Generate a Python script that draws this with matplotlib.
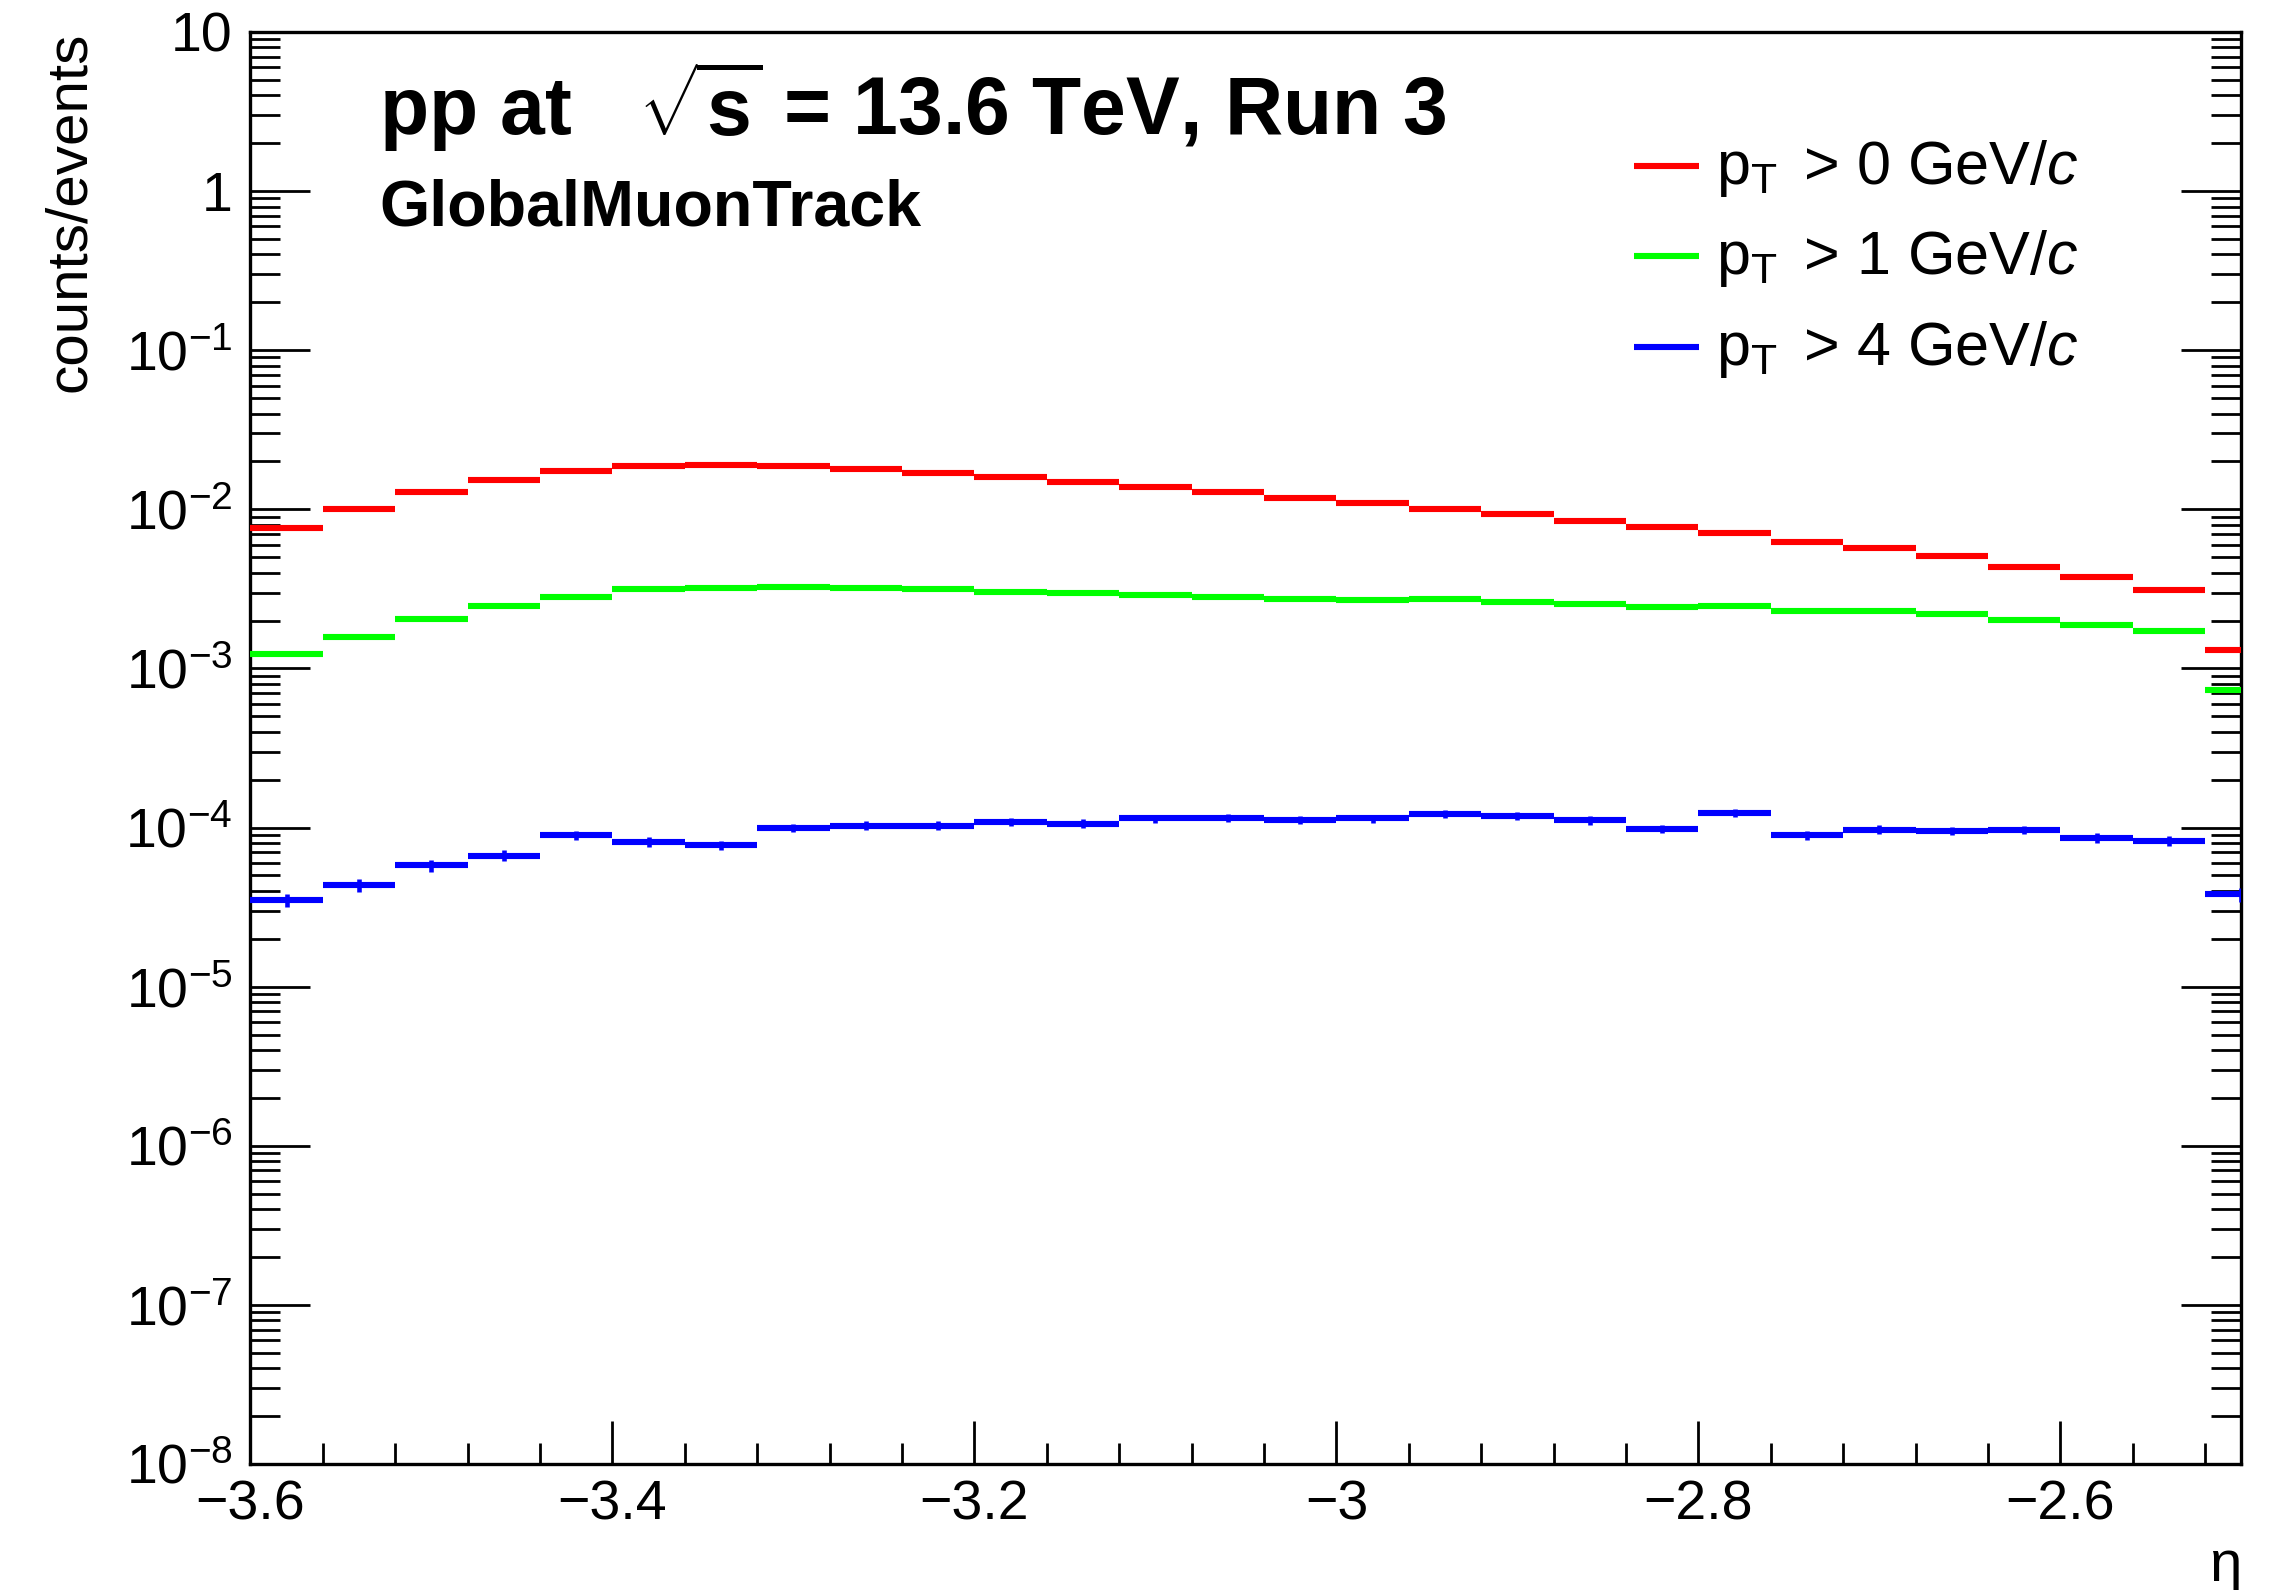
import numpy as np
import matplotlib
matplotlib.use("Agg")
import matplotlib.pyplot as plt
from matplotlib.ticker import FixedLocator, LogLocator, FuncFormatter, NullFormatter

plt.rcParams['font.family'] = ['Liberation Sans', 'DejaVu Sans']
plt.rcParams['mathtext.fontset'] = 'custom'
plt.rcParams['mathtext.rm'] = 'Liberation Sans'
plt.rcParams['mathtext.it'] = 'Liberation Sans:italic'
plt.rcParams['mathtext.bf'] = 'Liberation Sans:bold'

# eta binning: 0.04 wide bins starting at -3.6, last one runs past the frame
bin_edges = np.linspace(-3.6, -2.48, 29)

# counts/events per eta bin for the three pT thresholds
pt0 = [7.67e-3, 1.00e-2, 1.29e-2, 1.53e-2, 1.74e-2, 1.87e-2, 1.90e-2, 1.87e-2,
       1.79e-2, 1.70e-2, 1.59e-2, 1.48e-2, 1.38e-2, 1.29e-2, 1.18e-2, 1.09e-2,
       1.01e-2, 9.3e-3, 8.5e-3, 7.7e-3, 7.1e-3, 6.25e-3, 5.7e-3, 5.06e-3,
       4.33e-3, 3.77e-3, 3.11e-3, 1.30e-3]
pt1 = [1.23e-3, 1.57e-3, 2.05e-3, 2.48e-3, 2.82e-3, 3.16e-3, 3.21e-3, 3.23e-3,
       3.21e-3, 3.16e-3, 3.03e-3, 2.98e-3, 2.88e-3, 2.80e-3, 2.75e-3, 2.68e-3,
       2.72e-3, 2.61e-3, 2.55e-3, 2.45e-3, 2.48e-3, 2.31e-3, 2.31e-3, 2.21e-3,
       2.01e-3, 1.88e-3, 1.72e-3, 7.3e-4]
pt4 = [3.50e-5, 4.33e-5, 5.78e-5, 6.67e-5, 8.95e-5, 8.09e-5, 7.75e-5, 9.95e-5,
       1.03e-4, 1.03e-4, 1.09e-4, 1.06e-4, 1.14e-4, 1.15e-4, 1.12e-4, 1.14e-4,
       1.22e-4, 1.19e-4, 1.11e-4, 9.8e-5, 1.23e-4, 8.95e-5, 9.7e-5, 9.53e-5,
       9.67e-5, 8.61e-5, 8.28e-5, 3.80e-5]
pt4_err = [3.5e-6, 4.2e-6, 4.9e-6, 5.3e-6, 6.3e-6, 5.7e-6, 5.4e-6, 6.3e-6,
           6.4e-6, 6.4e-6, 6.5e-6, 6.4e-6, 6.6e-6, 6.7e-6, 6.6e-6, 6.6e-6,
           6.9e-6, 6.8e-6, 6.6e-6, 6.2e-6, 6.9e-6, 5.9e-6, 6.1e-6, 6.1e-6,
           6.1e-6, 5.8e-6, 5.7e-6, 3.9e-6]

labels = [r"p$_{\mathregular{T}}\,$ > 0 GeV/$\mathit{c}$",
          r"p$_{\mathregular{T}}\,$ > 1 GeV/$\mathit{c}$",
          r"p$_{\mathregular{T}}\,$ > 4 GeV/$\mathit{c}$"]
colors = ['#ff0000', '#00ff00', '#0000ff']

fig = plt.figure(figsize=(22.7, 15.9), dpi=100)
ax = fig.add_axes([0.11035, 0.07925, 0.87709, 0.90063])

lo = bin_edges[:-1]
hi = bin_edges[1:]
centers = 0.5 * (lo + hi)

for vals, col in zip([pt0, pt1, pt4], colors):
    ax.hlines(vals, lo, hi, colors=col, linewidth=4.4, capstyle='butt', zorder=3)

v4 = np.array(pt4)
e4 = np.array(pt4_err)
ax.vlines(centers, v4 - e4, v4 + e4, colors=colors[2], linewidth=3.3, zorder=3)

ax.set_xlim(-3.6, -2.5)
ax.set_yscale('log')
ax.set_ylim(1e-8, 10)

ax.xaxis.set_major_locator(FixedLocator([-3.6, -3.4, -3.2, -3.0, -2.8, -2.6]))
ax.xaxis.set_minor_locator(FixedLocator(np.arange(-3.6, -2.49, 0.04)))
ax.xaxis.set_major_formatter(FuncFormatter(lambda v, p: f"{v:g}".replace('-', '\u2212')))

def ylab(v, p):
    k = int(round(np.log10(v)))
    if k == 0:
        return "1"
    if k == 1:
        return "10"
    return r"$\mathregular{10^{%d}}$" % k

ax.yaxis.set_major_locator(LogLocator(base=10, numticks=20))
ax.yaxis.set_minor_locator(LogLocator(base=10, subs=np.arange(2, 10), numticks=20))
ax.yaxis.set_major_formatter(FuncFormatter(ylab))
ax.yaxis.set_minor_formatter(NullFormatter())

ax.tick_params(axis='both', which='both', direction='in', width=2.0, labelsize=40)
ax.tick_params(axis='y', which='major', length=43, left=True, right=True, pad=13)
ax.tick_params(axis='y', which='minor', length=21.5, left=True, right=True)
ax.tick_params(axis='x', which='major', length=31, top=False, pad=11)
ax.tick_params(axis='x', which='minor', length=15, top=False)
for s in ax.spines.values():
    s.set_linewidth(2.4)

ax.text(-0.0907, 1.0, "counts/events", rotation=90, ha='center', va='top',
        fontsize=42, transform=ax.transAxes)
ax.text(1.0, -0.071, "\u03b7", ha='right', va='center', fontsize=42,
        transform=ax.transAxes)

ax.text(0.0645, 0.928, r"pp at   $\sqrt{\mathbf{s}}$ = 13.6 TeV, Run 3",
        fontsize=58, fontweight='bold', ha='left', va='baseline',
        transform=ax.transAxes)
ax.text(0.0645, 0.865, "GlobalMuonTrack", fontsize=46.5, fontweight='bold',
        ha='left', va='baseline', transform=ax.transAxes)

# legend drawn by hand in axes fractions
row_y = [0.9062, 0.8433, 0.7798]
for lab, col, y in zip(labels, colors, row_y):
    ax.plot([0.6948, 0.7275], [y, y], color=col, linewidth=4.4,
            solid_capstyle='butt', transform=ax.transAxes, clip_on=False)
    ax.text(0.7361, y - 0.0125, lab, fontsize=44, ha='left', va='baseline',
            transform=ax.transAxes)

fig.savefig("out.png", dpi=100)
